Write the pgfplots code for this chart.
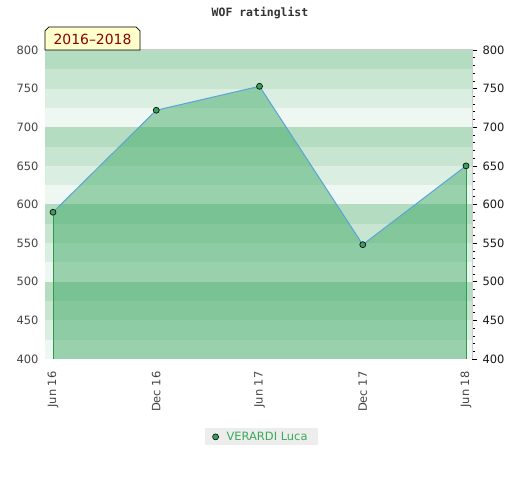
\documentclass[border=0pt]{standalone}
\usepackage{pgfplots}
\pgfplotsset{compat=1.18}
\usepackage{fontspec}
\setmainfont{DejaVu Sans}
\newfontfamily\monofont{DejaVu Sans Mono}
\definecolor{b1}{HTML}{B3DCC1}
\definecolor{b2}{HTML}{C7E5D1}
\definecolor{b3}{HTML}{DBEEE2}
\definecolor{b4}{HTML}{EFF7F2}
\definecolor{fillg}{HTML}{32A45B}
\definecolor{lineb}{HTML}{5BA3D9}
\definecolor{markg}{HTML}{3A9E5C}
\definecolor{edgeg}{HTML}{2E9A4E}
\definecolor{legtext}{HTML}{3AAA5A}
\definecolor{labelred}{HTML}{8B0000}
\definecolor{labelbg}{HTML}{FFFFCC}
\definecolor{ticktext}{HTML}{444444}
\begin{document}
\begin{tikzpicture}[x=1bp,y=1bp]
\useasboundingbox[fill=white] (0,0) rectangle (520,480);
\node[font=\monofont\bfseries\fontsize{11.5}{13}\selectfont, text=black!80] at (260,467) {WOF ratinglist};
\begin{axis}[
  at={(45bp,121bp)}, anchor=south west,
  scale only axis, width=427bp, height=309bp,
  xmin=-0.0775, xmax=4.058, ymin=400, ymax=800,
  xtick={0,1,2,3,4},
  xticklabels={Jun 16,Dec 16,Jun 17,Dec 17,Jun 18},
  xticklabel style={rotate=90, anchor=east, font=\fontsize{11.5}{13}\selectfont, text=ticktext, xshift=-9bp},
  ytick={400,450,...,800},
  yticklabel style={font=\fontsize{11.5}{13}\selectfont, text=ticktext, xshift=-3bp},
  /pgf/number format/assume math mode=true,
  major tick length=0pt,
  axis line style={draw=black!20, line width=1bp},
  legend style={at={(0.506,-0.252)}, anchor=center, fill=black!7, draw=none,
    font=\fontsize{11.5}{13}\selectfont, text=legtext, inner xsep=8bp, inner ysep=1.5bp},
  legend cell align=left,
  legend image code/.code={\draw[#1] plot coordinates {(0.25cm,0cm)};},
]
\fill[b1] (axis cs:-0.0775,800) rectangle (axis cs:4.058,775);
\fill[b2] (axis cs:-0.0775,775) rectangle (axis cs:4.058,750);
\fill[b3] (axis cs:-0.0775,750) rectangle (axis cs:4.058,725);
\fill[b4] (axis cs:-0.0775,725) rectangle (axis cs:4.058,700);
\fill[b1] (axis cs:-0.0775,700) rectangle (axis cs:4.058,675);
\fill[b2] (axis cs:-0.0775,675) rectangle (axis cs:4.058,650);
\fill[b3] (axis cs:-0.0775,650) rectangle (axis cs:4.058,625);
\fill[b4] (axis cs:-0.0775,625) rectangle (axis cs:4.058,600);
\fill[b1] (axis cs:-0.0775,600) rectangle (axis cs:4.058,575);
\fill[b2] (axis cs:-0.0775,575) rectangle (axis cs:4.058,550);
\fill[b3] (axis cs:-0.0775,550) rectangle (axis cs:4.058,525);
\fill[b4] (axis cs:-0.0775,525) rectangle (axis cs:4.058,500);
\fill[b1] (axis cs:-0.0775,500) rectangle (axis cs:4.058,475);
\fill[b2] (axis cs:-0.0775,475) rectangle (axis cs:4.058,450);
\fill[b3] (axis cs:-0.0775,450) rectangle (axis cs:4.058,425);
\fill[b4] (axis cs:-0.0775,425) rectangle (axis cs:4.058,400);
\addplot[draw=none, fill=fillg, fill opacity=0.45, forget plot]
  coordinates {(0,590) (1,722) (2,753) (3,548) (4,650)} \closedcycle;
\addplot[edgeg, line width=0.8bp, forget plot] coordinates {(0,400) (0,590)};
\addplot[edgeg, line width=0.8bp, forget plot] coordinates {(4,400) (4,650)};
\addplot[lineb, line width=1bp, forget plot]
  coordinates {(0,590) (1,722) (2,753) (3,548) (4,650)};
\addplot[only marks, mark=*, mark size=3bp, mark options={fill=markg, draw=black, line width=0.6bp}]
  coordinates {(0,590) (1,722) (2,753) (3,548) (4,650)};
\addlegendentry{\hspace{6bp}VERARDI Luca}
\end{axis}
\begin{axis}[
  at={(45bp,121bp)}, anchor=south west,
  scale only axis, width=427bp, height=309bp,
  xmin=-0.0775, xmax=4.058, ymin=400, ymax=800,
  axis x line=none, axis y line*=right,
  ytick={400,450,...,800}, minor y tick num=4,
  tick align=outside,
  major tick length=5bp, minor tick length=3bp,
  every tick/.style={black, line width=0.6bp},
  axis line style={draw=black!20, line width=1bp, -},
  yticklabel style={font=\fontsize{11.5}{13}\selectfont, text=black!90, xshift=2bp},
  /pgf/number format/assume math mode=true,
]
\end{axis}
\draw[black, line width=0.7bp, fill=labelbg]
  (45,430) -- (45,449) -- (49,453) -- (136,453) -- (140,449) -- (140,430) -- cycle;
\node[font=\fontsize{14}{16}\selectfont, text=labelred] at (92.5,441) {2016–2018};
\end{tikzpicture}
\end{document}
